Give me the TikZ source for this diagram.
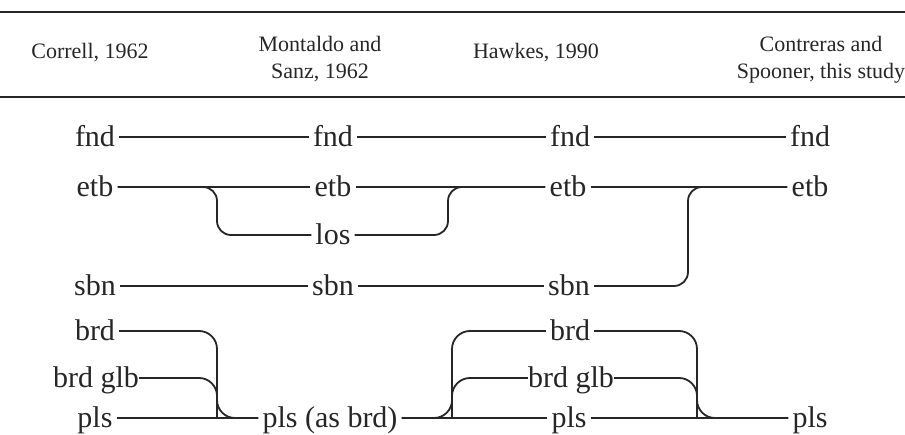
\documentclass[tikz,border=0pt]{standalone}
\usepackage{fontspec}
\setmainfont{Liberation Serif}
\begin{document}
\begin{tikzpicture}[x=1pt,y=-1pt,
  lbl/.style={inner ysep=0pt, inner xsep=4pt, text height=24pt, text depth=4pt, font=\fontsize{30}{32}\selectfont, text=black!85},
  hdr/.style={inner sep=0pt, anchor=base, font=\fontsize{22}{25}\selectfont, text=black!85},
  ln/.style={line width=1.8pt, draw=black!85},
  br/.style={ln, rounded corners=14pt},
  brb/.style={ln, rounded corners=18pt},
  rulel/.style={line width=2.8pt, draw=black!85}]
\useasboundingbox (0,0) rectangle (905,435);
% rules
\coordinate (r1a) at (0,12); \coordinate (r1b) at (905,12);
\coordinate (r2a) at (0,97); \coordinate (r2b) at (905,97);
\draw[rulel] (r1a) -- (r1b);
\draw[rulel] (r2a) -- (r2b);
% header
\node[hdr] (h1) at (90,59) {Correll, 1962};
\node[hdr] (h2a) at (320,52) {Montaldo and};
\node[hdr] (h2b) at (320,79) {Sanz, 1962};
\node[hdr] (h3) at (536,59) {Hawkes, 1990};
\node[hdr] (h4a) at (821,52) {Contreras and};
\node[hdr] (h4b) at (821,79) {Spooner, this study};
% column 1
\node[lbl] (fnd1) at (95,137) {fnd};
\node[lbl] (etb1) at (95,187) {etb};
\node[lbl] (sbn1) at (95,286) {sbn};
\node[lbl] (brd1) at (95,331) {brd};
\node[lbl,inner xsep=0pt] (glb1) at (96,378) {brd glb};
\node[lbl] (pls1) at (95,418) {pls};
% column 2
\node[lbl] (fnd2) at (333,137) {fnd};
\node[lbl] (etb2) at (333,187) {etb};
\node[lbl] (los2) at (333,235) {los};
\node[lbl] (sbn2) at (333,286) {sbn};
\node[lbl] (pls2) at (330,418) {pls (as brd)};
% column 3
\node[lbl] (fnd3) at (570,137) {fnd};
\node[lbl] (etb3) at (568,187) {etb};
\node[lbl] (sbn3) at (569,286) {sbn};
\node[lbl] (brd3) at (570,331) {brd};
\node[lbl,inner xsep=0pt] (glb3) at (571,378) {brd glb};
\node[lbl] (pls3) at (569,418) {pls};
% column 4
\node[lbl] (fnd4) at (810,137) {fnd};
\node[lbl] (etb4) at (810,187) {etb};
\node[lbl] (pls4) at (810,418) {pls};
% vertical positions of bends
\coordinate (k1) at (217,0);
\coordinate (k2) at (448,0);
\coordinate (k3) at (688,0);
\coordinate (k4) at (217,0);
\coordinate (k5) at (452,0);
\coordinate (k6) at (697,0);
% straight connectors
\draw[ln] (fnd1) -- (fnd2);
\draw[ln] (fnd2) -- (fnd3);
\draw[ln] (fnd3) -- (fnd4);
\draw[ln] (etb1) -- (etb2);
\draw[ln] (etb2) -- (etb3);
\draw[ln] (etb3) -- (etb4);
\draw[ln] (sbn1) -- (sbn2);
\draw[ln] (sbn2) -- (sbn3);
\draw[ln] (pls1) -- (pls2);
\draw[ln] (pls2) -- (pls3);
\draw[ln] (pls3) -- (pls4);
% bent connectors
\draw[br] (etb1.east) -| (k1 |- los2.west) -- (los2.west);
\draw[br] (los2.east) -| (k2 |- etb3.west) -- (etb3.west);
\draw[br] (sbn3.east) -| (k3 |- etb4.west) -- (etb4.west);
\draw[brb] (brd1.east) -| (k4 |- pls2.west) -- (pls2.west);
\draw[brb] (glb1.east) -| (k4 |- pls2.west);
\draw[brb] (pls2.east) -| (k5 |- brd3.west) -- (brd3.west);
\draw[brb] (k5 |- pls2.east) |- (glb3.west);
\draw[brb] (brd3.east) -| (k6 |- pls4.west) -- (pls4.west);
\draw[brb] (glb3.east) -| (k6 |- pls4.west);
\end{tikzpicture}
\end{document}
